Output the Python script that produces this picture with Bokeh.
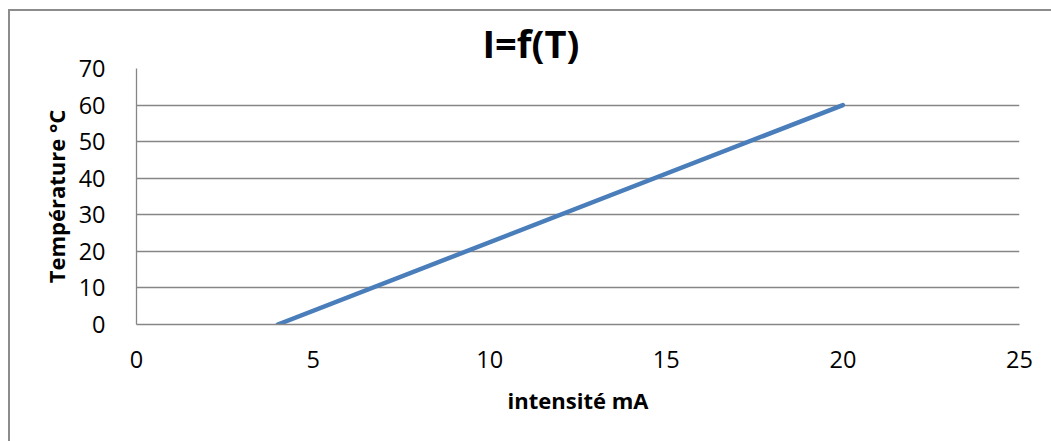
from bokeh.plotting import figure
from bokeh.models import Range1d, FixedTicker
from bokeh.embed import file_html
from bokeh.resources import INLINE

# current (mA) -> temperature (°C)
intensite_mA = [4, 20]
temperature_C = [0, 60]

x_ticks = [0, 5, 10, 15, 20, 25]
y_ticks = [0, 10, 20, 30, 40, 50, 60, 70]

FONT = "Open Sans"
GRID = "#868686"
EDGE = "#8c8c8c"

p = figure(width=1051, height=441, output_backend="svg", toolbar_location=None,
           x_range=Range1d(0, 25), y_range=Range1d(0, 70),
           min_border_left=136, min_border_right=32,
           min_border_top=68, min_border_bottom=117)
p.outline_line_color = None
p.background_fill_color = "white"
p.border_fill_alpha = 0

# chart area outline: a left edge and a top edge running off the page
p.styles = {
    "background": (f"linear-gradient({EDGE},{EDGE}) 8px 9px / 2px 2000px no-repeat, "
                   f"linear-gradient({EDGE},{EDGE}) 8px 9px / 2000px 2px no-repeat, white"),
}

p.line(intensite_mA, temperature_C, line_color="#4A7EBB", line_width=4.5,
       line_cap="round")

p.xgrid.visible = False
p.ygrid.ticker = FixedTicker(ticks=y_ticks)
p.ygrid.grid_line_color = GRID
p.ygrid.grid_line_width = 1.3

for ax, ticks in ((p.xaxis[0], x_ticks), (p.yaxis[0], y_ticks)):
    ax.ticker = FixedTicker(ticks=ticks)
    ax.major_tick_line_color = None
    ax.minor_tick_line_color = None
    ax.axis_line_color = GRID
    ax.axis_line_width = 1.3
    ax.major_label_text_font = FONT
    ax.major_label_text_font_size = "23.5px"
    ax.major_label_text_color = "black"
    ax.axis_label_text_font = FONT
    ax.axis_label_text_font_style = "bold"
    ax.axis_label_text_font_size = "22px"
    ax.axis_label_text_color = "black"
p.xaxis.major_label_standoff = 20
p.yaxis.major_label_standoff = 25
p.xaxis.axis_label = "intensité mA"
p.yaxis.axis_label = "Température °C"
p.xaxis.axis_label_standoff = 14
p.yaxis.axis_label_standoff = 5

p.title.text = "I=f(T)"
p.title.text_font = FONT
p.title.text_font_style = "bold"
p.title.text_font_size = "38px"
p.title.text_color = "black"
p.title.align = "left"
p.title.offset = 346
p.title.standoff = 0

open("out.html", "w").write(file_html(p, INLINE))
